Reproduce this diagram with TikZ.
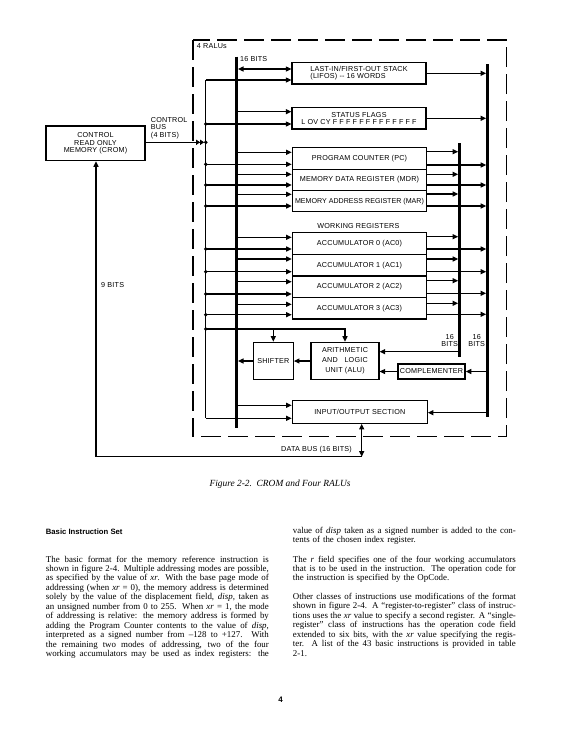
\documentclass[tikz,border=0pt]{standalone}
\usepackage{fontspec}
\setmainfont{Liberation Serif}
\setsansfont{Liberation Sans}
\newfontfamily\dfont[LetterSpace=3]{Liberation Sans}
\newfontfamily\hfont{Liberation Sans}
\usetikzlibrary{arrows.meta,calc}
\newlength\colw \setlength\colw{223pt}
\newcommand\jl[1]{{\spaceskip=0pt\xspaceskip=0pt\makebox[\colw][s]{#1}}}
\begin{document}
\begin{tikzpicture}[x=1pt,y=-1pt,
  box/.style={draw,line width=1.2pt,inner sep=0pt,align=center,font=\dfont\fontsize{7.2}{7.4}\selectfont},
  lbl/.style={inner sep=0pt,align=center,font=\dfont\fontsize{7.2}{7.7}\selectfont},
  ln/.style={line width=1.1pt},
  arr/.style={line width=1.1pt,-{Triangle[length=5.5pt,width=5pt]}},
  darr/.style={line width=1.1pt,{Triangle[length=5.5pt,width=5pt]}-{Triangle[length=5.5pt,width=5pt]}},
  bus/.style={line width=2.6pt},
  body/.style={inner sep=0pt,text width=\colw,align=left,anchor=base west,font=\fontsize{8.9}{9.47}\selectfont},
  ralu/.style={line width=1.4pt,dash pattern=on 20pt off 7pt}]
\useasboundingbox (0,0) rectangle (579,750);
\fill[white] (0,0) rectangle (579,750);

% RALU frame
\draw[ralu] (193,40) rectangle (506.7,436.7);

% boxes
\node[box,minimum width=99pt,minimum height=34.7pt] (crom) at (95.5,143.3) {CONTROL\\READ ONLY\\MEMORY (CROM)};
\node[box,minimum width=134pt,minimum height=21.7pt,align=left] (lifo) at (359,73.2) {LAST-IN/FIRST-OUT STACK\\(LIFOS) -- 16 WORDS};
\node[box,minimum width=134pt,minimum height=21.7pt,font=\dfont\fontsize{7.2}{6.9}\selectfont] (status) at (359,118.2) {STATUS FLAGS\\L OV CY F F F F F F F F F F F F F};
\node[box,minimum width=134.4pt,minimum height=22pt] (pc) at (359.5,158.3) {PROGRAM COUNTER (PC)};
\node[box,minimum width=134.4pt,minimum height=21.4pt] (mdr) at (359.5,180) {MEMORY DATA REGISTER (MDR)};
\node[box,minimum width=134.4pt,minimum height=21pt,font=\hfont\fontsize{7.1}{7.3}\selectfont] (mar) at (359.5,201.2) {MEMORY ADDRESS REGISTER (MAR)};
\node[box,minimum width=134.4pt,minimum height=21.6pt] (ac0) at (359.5,243.5) {ACCUMULATOR 0 (AC0)};
\node[box,minimum width=134.4pt,minimum height=21.7pt] (ac1) at (359.5,265.2) {ACCUMULATOR 1 (AC1)};
\node[box,minimum width=134.4pt,minimum height=21.3pt] (ac2) at (359.5,286.7) {ACCUMULATOR 2 (AC2)};
\node[box,minimum width=134.4pt,minimum height=21.7pt] (ac3) at (359.5,308.2) {ACCUMULATOR 3 (AC3)};
\node[box,minimum width=40pt,minimum height=37pt] (shifter) at (273.3,360.8) {SHIFTER};
\node[box,minimum width=68pt,minimum height=37pt,font=\dfont\fontsize{7.2}{9.7}\selectfont] (alu) at (345,360.8) {ARITHMETIC\\AND\ \ \ LOGIC\\UNIT (ALU)};
\node[box,minimum width=67pt,minimum height=15pt,line width=1.6pt] (comp) at (431.5,371.5) {COMPLEMENTER};
\node[box,minimum width=135pt,minimum height=22.6pt] (io) at (359.8,412) {INPUT/OUTPUT SECTION};

% bus coordinates
\coordinate (bLt) at (236.7,56.7);  \coordinate (bLb) at (236.7,427.7);
\coordinate (cBt) at (205.8,80);    \coordinate (cBb) at (205.8,418.3);
\coordinate (bIt) at (459.5,143.3); \coordinate (bIb) at (459.5,356.7);
\coordinate (bOt) at (487.5,64.3);  \coordinate (bOb) at (487.5,417.3);

% control bus
\draw[ln] (cBt) -- (cBb);
\draw[arr] (cBt) -- (lifo.west |- cBt);
\draw[arr] (cBb) -- (io.west |- cBb);
\draw[line width=1.1pt,-{Triangle[length=4pt,width=5pt]Triangle[length=4pt,width=5pt]},shorten >=1.6pt] (crom.east |- 0,142.3) -- (cBt |- 0,142.3);
\fill (cBt |- 0,142.3) circle (1.9pt);
\foreach \b/\y in {status/124,pc/164.3,mdr/185,mar/206,ac0/249,ac1/271.7,ac2/294,ac3/314.7}{
  \draw[arr] (cBt |- 0,\y) -- (\b.west |- 0,\y);
  \fill (cBt |- 0,\y) circle (1.9pt);
}
\fill (cBt |- 0,329) circle (1.9pt);
\draw[arr] (cBt |- 0,329) -| (alu.north);
\draw[arr] (shifter.north |- 0,329) -- (shifter.north);

% left 16-bit bus arrows
\draw[darr,shorten <=1.3pt] (bLt |- 0,69) -- (lifo.west |- 0,69);
\foreach \b/\y in {status/111.7,pc/152.3,mdr/174.3,mar/194.3,ac0/237.3,ac1/259,ac2/281.7,ac3/304.3,io/405.3}{
  \draw[arr] (bLt |- 0,\y) -- (\b.west |- 0,\y);
}
\draw[arr] (alu.west |- 0,361) -- (shifter.east |- 0,361);
\draw[arr,shorten >=1.3pt] (shifter.west |- 0,361) -- (bLt |- 0,361);

% right bus arrows
\foreach \b/\y in {lifo/73.3,status/118.3,pc/165,mdr/185,mar/206,ac0/249,ac1/271.7,ac2/293.3,ac3/314.3}{
  \draw[arr,shorten >=1.3pt] (\b.east |- 0,\y) -- (bOt |- 0,\y);
}
\foreach \b/\y in {pc/151.7,mdr/174.3,mar/194,ac0/236.7,ac1/259,ac2/280.7,ac3/303.3}{
  \draw[arr,shorten >=1.3pt] (\b.east |- 0,\y) -- (bIt |- 0,\y);
}
\draw[arr] (bIt |- 0,351.7) -- (alu.east |- 0,351.7);
\draw[arr] (bOt |- comp.east) -- (comp.east);
\draw[arr] (comp.west) -- (alu.east |- comp.west);
\draw[arr] (bOt |- 0,412.7) -- (io.east |- 0,412.7);

% buses
\draw[bus] (bLt) -- (bLb);
\draw[bus] (bIt) -- (bIb);
\draw[bus] (bOt) -- (bOb);

% data bus and 9 bits
\coordinate (dbb) at (361.7,456.7);
\coordinate (c9) at (96,456.7);
\draw[darr] (io.south -| dbb) -- (dbb);
\draw[arr,line join=miter] (dbb) -- (c9) -- (crom.south -| c9);

% labels
\node[lbl,anchor=west] (l4r) at (196.7,46.5) {4 RALUs};
\node[lbl,anchor=west] (l16) at (240,59.3) {16 BITS};
\node[lbl,anchor=north west,align=left] (lcb) at (150.7,117) {CONTROL\\BUS\\(4 BITS)};
\node[lbl,anchor=west] (l9) at (101,285) {9 BITS};
\node[lbl] (l16i) at (449.7,340.5) {16\\BITS};
\node[lbl] (l16o) at (476.7,340.5) {16\\BITS};
\node[lbl] (ldb) at (316.5,450) {DATA BUS (16 BITS)};
\node[lbl] (lwr) at (358.3,226) {WORKING REGISTERS};

% caption
\node[inner sep=0pt,font=\itshape\fontsize{9.4}{10}\selectfont] (cap) at (280,484) {Figure 2-2.\ \ CROM and Four RALUs};

% text
\node[anchor=base west,inner sep=0pt,font=\hfont\bfseries\fontsize{7.7}{9}\selectfont] (hd) at (45.7,534.3) {Basic Instruction Set};
\node[body] (p1) at (45.7,562) {%
\jl{The basic format for the memory reference instruction is}\\
\jl{shown in figure 2-4. Multiple addressing modes are possible,}\\
\jl{as specified by the value of \textit{xr}. With the base page mode of}\\
\jl{addressing (when \textit{xr} = 0), the memory address is determined}\\
\jl{solely by the value of the displacement field, \textit{disp}, taken as}\\
\jl{an unsigned number from 0 to 255. When \textit{xr} = 1, the mode}\\
\jl{of addressing is relative: the memory address is formed by}\\
\jl{adding the Program Counter contents to the value of \textit{disp},}\\
\jl{interpreted as a signed number from --128 to +127. With}\\
\jl{the remaining two modes of addressing, two of the four}\\
\jl{working accumulators may be used as index registers: the}};
\node[body] (p2) at (292.7,533.5) {%
\jl{value of \textit{disp} taken as a signed number is added to the con-}\\
tents of the chosen index register.};
\node[body] (p3) at (292.7,562) {%
\jl{The \textit{r} field specifies one of the four working accumulators}\\
\jl{that is to be used in the instruction. The operation code for}\\
the instruction is specified by the OpCode.};
\node[body] (p4) at (292.7,599.4) {%
\jl{Other classes of instructions use modifications of the format}\\
\jl{shown in figure 2-4. A ``register-to-register'' class of instruc-}\\
\jl{tions uses the \textit{xr} value to specify a second register. A ``single-}\\
\jl{register'' class of instructions has the operation code field}\\
\jl{extended to six bits, with the \textit{xr} value specifying the regis-}\\
\jl{ter. A list of the 43 basic instructions is provided in table}\\
2-1.};
\node[inner sep=0pt,font=\hfont\bfseries\fontsize{8}{9}\selectfont] (pg) at (280.7,699.3) {4};
\end{tikzpicture}
\end{document}
